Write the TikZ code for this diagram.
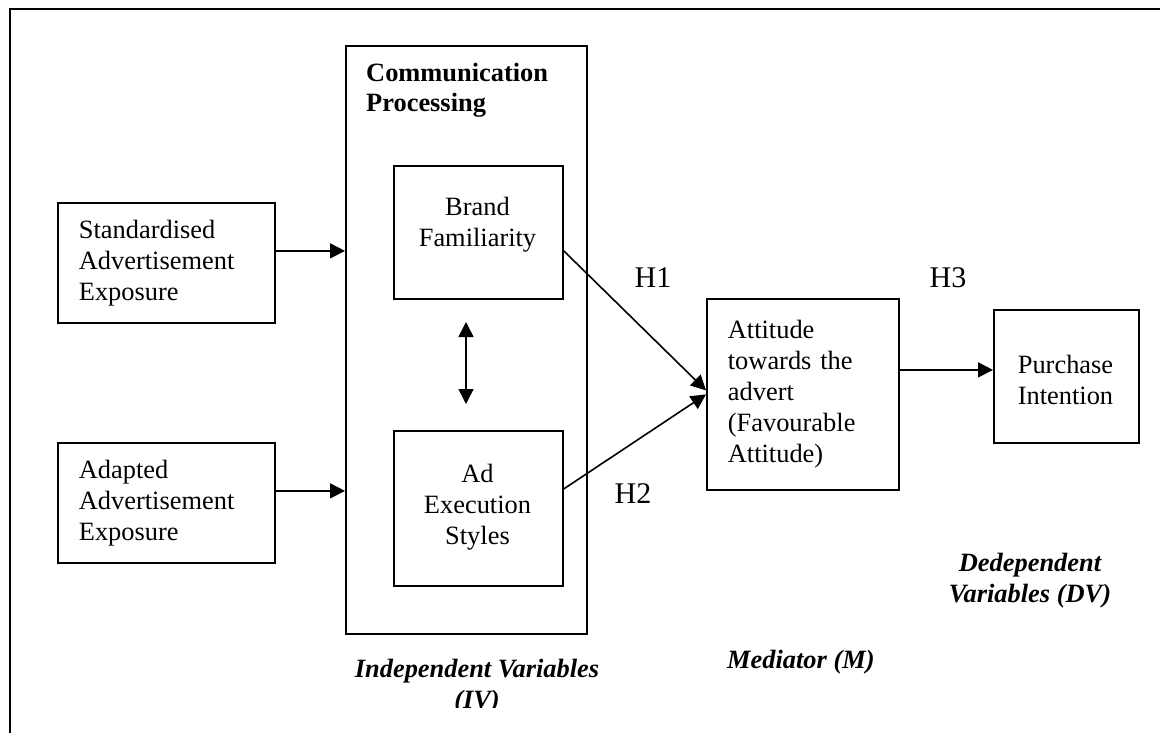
\documentclass[tikz,border=0pt]{standalone}
\usepackage{fontspec}
\setmainfont{Liberation Serif}
\usetikzlibrary{arrows.meta}
\tikzset{
  box/.style={draw, line width=1.8pt, rectangle, inner sep=0pt, anchor=north west},
  txt/.style={font=\fontsize{26.4}{31}\selectfont, inner sep=0pt},
  ttl/.style={font=\fontsize{26.4}{30}\selectfont\bfseries, inner sep=0pt, align=left, anchor=north west},
  lbl/.style={font=\fontsize{26.4}{31}\selectfont\bfseries\itshape, align=center, inner sep=0pt},
  hyp/.style={font=\fontsize{30}{34}\selectfont, inner sep=0pt},
  arr/.style={line width=1.6pt, -{Triangle[length=15pt,width=15pt]}},
  darr/.style={line width=1.6pt, {Triangle[length=15pt,width=15pt]}-{Triangle[length=15pt,width=15pt]}},
  frameline/.style={line width=2pt}
}
\begin{document}
\begin{tikzpicture}[x=1pt,y=-1pt]
\useasboundingbox (0,0) rectangle (1160,732);
% outer frame (cropped)
\coordinate (ftl) at (10,9);
\coordinate (ftr) at (1161,9);
\coordinate (fbl) at (10,733);
\draw[frameline] (ftr) -- (ftl) -- (fbl);

% left boxes
\node[box, txt, minimum width=217pt, minimum height=120pt, text width=175pt, align=left, inner xsep=21pt] (std) at (57,202) {Standardised\\Advertisement\\Exposure};
\node[box, txt, minimum width=217pt, minimum height=120pt, text width=175pt, align=left, inner xsep=21pt] (adp) at (57,442) {Adapted\\Advertisement\\Exposure};

% communication processing
\node[box, minimum width=241pt, minimum height=588pt] (comm) at (345,45) {};
\node[ttl] (title) at (366,63) {Communication\\Processing};

\node[box, minimum width=169pt, minimum height=133pt] (brand) at (393,165) {};
\node[txt, align=center] (brandtxt) at (477.5,225) {Brand\\Familiarity};
\node[box, minimum width=169pt, minimum height=155pt] (ad) at (393,430) {};
\node[txt, align=center] (adtxt) at (477.5,507) {Ad\\Execution\\Styles};

% mediator and DV
\node[box, txt, minimum width=192pt, minimum height=191pt, text width=150pt, align=left, inner xsep=21pt] (att) at (706,298) {Attitude\\towards the\\advert\\(Favourable\\Attitude)};
\node[box, minimum width=145pt, minimum height=133pt] (pur) at (993,309) {};
\node[txt, align=center] (purtxt) at (1065.5,380) {Purchase\\Intention};

% arrows
\draw[arr] ([yshift=12pt]std.east) -- ([yshift=12pt]std.east -| comm.west);
\draw[arr] ([yshift=12pt]adp.east) -- ([yshift=12pt]adp.east -| comm.west);
\coordinate (dtop) at (466,322);
\coordinate (dbot) at (466,404);
\draw[darr] (dtop) -- (dbot);
\draw[arr] ([yshift=-18.5pt]brand.east) -- ([yshift=4pt]att.west);
\draw[arr] ([yshift=19.5pt]ad.east) -- ([yshift=0pt]att.west);
\draw[arr] ([yshift=24.5pt]att.east) -- ([yshift=24.5pt]att.east -| pur.west);

% hypothesis labels
\node[hyp] (h1) at (653,278) {H1};
\node[hyp] (h2) at (633,494) {H2};
\node[hyp] (h3) at (948,278) {H3};

% bottom labels
\begin{scope}
\clip (0,0) rectangle (1160,707);
\node[lbl] (iv) at (477,687) {Independent Variables\\(IV)};
\end{scope}
\node[lbl, anchor=west] (med) at (727,662) {Mediator (M)};
\node[lbl] (dv) at (1030,581) {Dedependent\\Variables (DV)};
\end{tikzpicture}
\end{document}
